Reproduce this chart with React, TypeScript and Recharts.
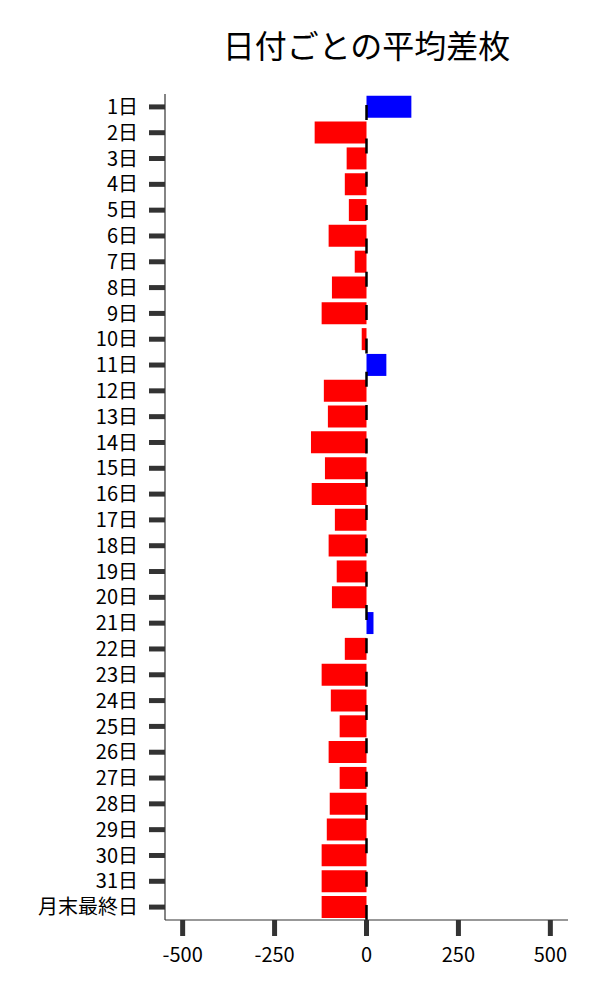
import { Bar, BarChart, Cell, ReferenceLine, XAxis, YAxis } from "recharts";

const days = [
  "1日", "2日", "3日", "4日", "5日", "6日", "7日", "8日", "9日", "10日",
  "11日", "12日", "13日", "14日", "15日", "16日", "17日", "18日", "19日", "20日",
  "21日", "22日", "23日", "24日", "25日", "26日", "27日", "28日", "29日", "30日",
  "31日", "月末最終日",
];
const avgDiff = [
  122, -141, -54, -59, -48, -103, -32, -94, -122, -13,
  54, -116, -105, -151, -113, -149, -86, -103, -81, -94,
  19, -59, -122, -97, -73, -103, -73, -100, -108, -122,
  -122, -122,
];
const xTicks = [-500, -250, 0, 250, 500];

const data = days.map((day, i) => ({ day, diff: avgDiff[i] }));
const font = "'Noto Sans CJK JP', 'Noto Sans', sans-serif";

export default function App() {
  return (
    <div style={{ position: "fixed", left: 0, top: 0, width: 600, height: 1000, background: "#fff", fontFamily: font }}>
      <div style={{ position: "absolute", left: 165, width: 403, top: 24, lineHeight: "40px", fontSize: 32, textAlign: "center", color: "#000" }}>
        日付ごとの平均差枚
      </div>
      <BarChart width={600} height={1000} data={data} layout="vertical" margin={{ top: 94, right: 32, bottom: 0, left: 0 }} barCategoryGap="7%">
        <XAxis
          type="number"
          domain={[-548, 548]}
          ticks={xTicks}
          height={80}
          tickSize={16}
          tickMargin={12}
          tick={{ fill: "#000", fontSize: 20, fontFamily: font }}
          axisLine={{ stroke: "#333", strokeWidth: 1.2 }}
          tickLine={{ stroke: "#333", strokeWidth: 5 }}
        />
        <YAxis
          type="category"
          dataKey="day"
          width={165}
          interval={0}
          tickSize={16}
          tickMargin={11}
          tick={{ fill: "#000", fontSize: 20, fontFamily: font }}
          axisLine={{ stroke: "#333", strokeWidth: 1.2 }}
          tickLine={{ stroke: "#333", strokeWidth: 5 }}
        />
        <Bar dataKey="diff" isAnimationActive={false}>
          {data.map((d) => (
            <Cell key={d.day} fill={d.diff >= 0 ? "#0000ff" : "#ff0000"} />
          ))}
        </Bar>
        <ReferenceLine x={0} stroke="#000" strokeWidth={2.5} strokeDasharray="15 18.33" />
      </BarChart>
    </div>
  );
}
